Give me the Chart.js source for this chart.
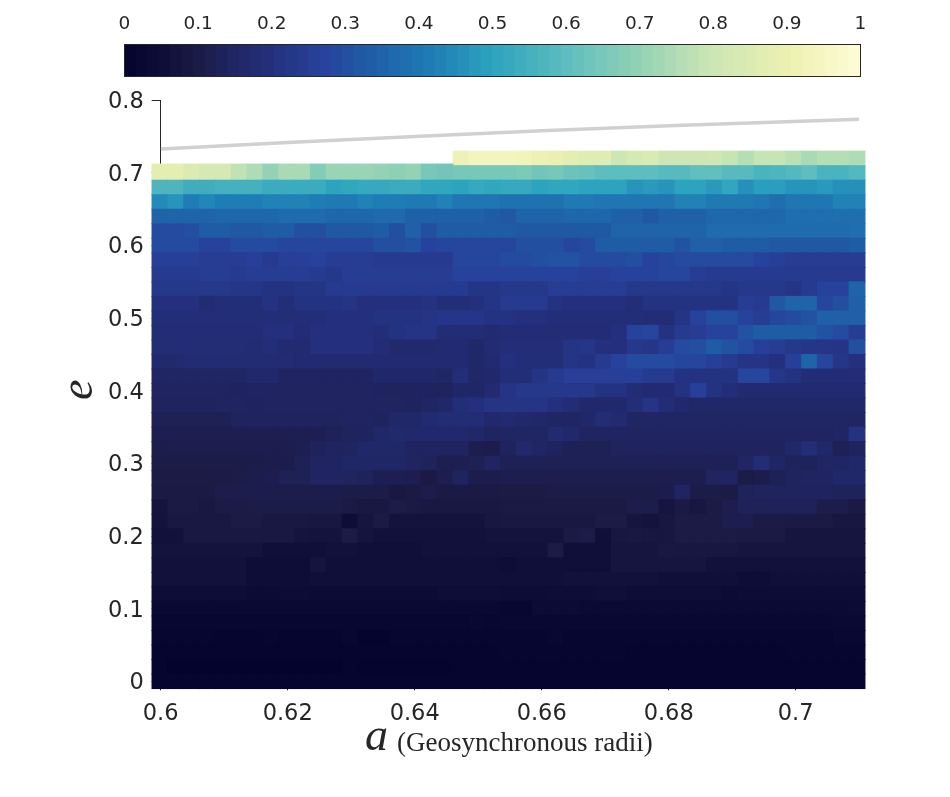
<!DOCTYPE html>
<html lang="en">
<head>
    <meta charset="UTF-8">
    <title>Lifetime map</title>
    <script src="https://cdn.jsdelivr.net/npm/chart.js"></script>
    <style>
        body { margin: 0; background: #fff; }
        #wrap { position: relative; width: 950px; height: 797px; }
        canvas { position: absolute; left: 0; top: 0; }
    </style>
</head>
<body>
    <div id="wrap">
        <canvas id="heatChart" width="950" height="797"></canvas>
        <canvas id="barChart" width="950" height="85"></canvas>
    </div>

    <script>
        const xTicks = [0.6, 0.62, 0.64, 0.66, 0.68, 0.7];
        const yTicks = [0, 0.1, 0.2, 0.3, 0.4, 0.5, 0.6, 0.7, 0.8];
        const barTicks = [0, 0.1, 0.2, 0.3, 0.4, 0.5, 0.6, 0.7, 0.8, 0.9, 1];

        // grey limit curve
        const limitA = [0.6, 0.62, 0.64, 0.66, 0.68, 0.71];
        const limitE = [0.733, 0.742, 0.750, 0.758, 0.765, 0.774];

        // colormap
        const cmapStops = [0, 0.05, 0.1, 0.15, 0.2, 0.27, 0.33, 0.42, 0.5, 0.6, 0.7, 0.8, 0.9, 1];
        const cmapColors = [
            [3, 3, 45], [13, 13, 56], [27, 27, 70], [32, 38, 100], [36, 48, 125], [39, 66, 156],
            [31, 92, 166], [31, 125, 181], [44, 163, 191], [93, 189, 191], [147, 210, 181],
            [205, 230, 180], [235, 240, 176], [255, 252, 214]
        ];

        // cell values, one array per e row (45 columns of a)
        const row00 = [.008,.008,.008,.008,.008,.008,.008,.008,.008,.008,.008,.008,.008,.008,.008,.008,.008,.008,.008,.008,.008,.008,.008,.008,.008,.008,.008,.008,.008,.008,.008,.008,.008,.008,.008,.008,.008,.008,.008,.008,.008,.008,.008,.008,.008];
        const row02 = [.01,.002,.002,.002,.002,.002,.002,.002,.002,.002,.002,.002,.01,.003,.003,.003,.003,.003,.003,.008,.008,.008,.008,.008,.008,.008,.008,.008,.008,.008,.008,.008,.008,.008,.008,.008,.008,.008,.008,.008,.008,.008,.008,.008,.008];
        const row04 = [.01,.01,.01,.01,.01,.01,.01,.01,.01,.01,.01,.01,.01,.01,.01,.01,.01,.01,.01,.01,.01,.01,.014,.014,.014,.014,.014,.014,.014,.014,.008,.008,.008,.008,.008,.008,.008,.008,.008,.008,.014,.014,.014,.014,.014];
        const row06 = [.016,.016,.016,.016,.008,.008,.012,.016,.008,.008,.008,.008,.02,.006,.006,.014,.014,.014,.014,.014,.014,.014,.016,.016,.016,.024,.016,.016,.016,.016,.016,.016,.016,.016,.016,.016,.016,.016,.016,.016,.016,.016,.016,.024,.024];
        const row08 = [.02,.02,.02,.02,.02,.02,.02,.02,.02,.02,.02,.02,.02,.02,.02,.02,.02,.02,.02,.02,.026,.02,.024,.024,.024,.024,.024,.024,.024,.024,.024,.024,.024,.024,.024,.024,.024,.024,.024,.024,.024,.024,.024,.032,.032];
        const row10 = [.03,.03,.03,.03,.03,.03,.03,.03,.03,.03,.03,.03,.03,.03,.03,.03,.03,.03,.03,.03,.03,.03,.02,.02,.04,.04,.04,.036,.036,.036,.036,.036,.036,.036,.036,.036,.036,.036,.036,.036,.036,.036,.036,.036,.04];
        const row12 = [.05,.05,.05,.05,.05,.05,.04,.04,.045,.045,.04,.04,.04,.04,.04,.04,.04,.04,.05,.05,.05,.05,.045,.045,.045,.05,.05,.05,.058,.058,.05,.05,.05,.05,.05,.05,.04,.045,.045,.045,.045,.045,.045,.045,.045];
        const row14 = [.065,.065,.065,.065,.065,.065,.05,.05,.05,.05,.058,.058,.058,.058,.058,.058,.058,.058,.058,.058,.058,.058,.058,.058,.058,.058,.065,.065,.065,.065,.065,.065,.058,.058,.058,.058,.058,.05,.05,.058,.058,.058,.058,.058,.058];
        const row16 = [.065,.065,.065,.065,.065,.065,.05,.05,.05,.05,.075,.058,.058,.058,.058,.058,.058,.058,.058,.058,.058,.058,.05,.058,.058,.058,.058,.058,.058,.08,.08,.08,.08,.08,.08,.065,.065,.065,.065,.065,.065,.065,.065,.065,.065];
        const row18 = [.07,.07,.07,.07,.07,.07,.07,.058,.058,.058,.058,.065,.065,.058,.058,.058,.058,.065,.065,.065,.065,.065,.065,.065,.065,.10,.058,.058,.058,.08,.08,.08,.09,.085,.085,.085,.085,.08,.08,.08,.08,.08,.08,.08,.08];
        const row20 = [.065,.065,.09,.09,.09,.09,.09,.09,.09,.075,.07,.07,.10,.075,.065,.065,.065,.065,.065,.065,.065,.07,.07,.07,.07,.07,.095,.105,.058,.085,.09,.085,.085,.10,.10,.10,.10,.095,.095,.095,.08,.08,.08,.08,.08];
        const row22 = [.07,.09,.09,.09,.09,.10,.10,.09,.09,.09,.085,.085,.05,.08,.095,.07,.07,.07,.07,.07,.07,.085,.09,.09,.09,.09,.09,.09,.10,.10,.08,.07,.085,.10,.10,.10,.115,.115,.10,.10,.095,.095,.095,.085,.085];
        const row24 = [.075,.095,.095,.09,.10,.10,.105,.105,.105,.105,.105,.105,.095,.09,.09,.105,.095,.09,.09,.09,.09,.09,.095,.095,.095,.095,.095,.095,.095,.095,.11,.11,.08,.095,.085,.10,.115,.13,.13,.13,.13,.13,.11,.11,.095];
        const row26 = [.095,.095,.095,.095,.11,.11,.11,.11,.11,.11,.11,.11,.105,.105,.105,.09,.095,.11,.095,.095,.095,.095,.10,.10,.10,.105,.105,.105,.105,.105,.105,.105,.11,.145,.105,.105,.10,.135,.14,.14,.14,.14,.14,.135,.135];
        const row28 = [.10,.10,.10,.10,.10,.105,.11,.115,.125,.125,.145,.145,.145,.135,.12,.12,.115,.095,.115,.14,.11,.11,.115,.115,.115,.115,.115,.115,.115,.115,.115,.115,.115,.115,.115,.145,.145,.105,.11,.125,.14,.145,.145,.16,.16];
        const row30 = [.105,.105,.105,.105,.105,.105,.105,.11,.11,.125,.145,.145,.155,.155,.155,.155,.145,.135,.12,.12,.125,.145,.125,.125,.125,.125,.125,.125,.125,.125,.125,.125,.125,.125,.125,.125,.125,.15,.185,.15,.135,.135,.15,.15,.16];
        const row32 = [.11,.115,.115,.115,.115,.115,.115,.115,.115,.12,.135,.145,.145,.16,.16,.16,.145,.145,.145,.145,.115,.11,.14,.165,.15,.14,.125,.125,.125,.14,.14,.14,.14,.14,.14,.14,.14,.14,.14,.14,.16,.19,.16,.125,.14];
        const row34 = [.12,.12,.12,.12,.12,.12,.12,.12,.12,.12,.12,.13,.14,.14,.16,.17,.165,.165,.165,.165,.16,.145,.15,.15,.15,.175,.165,.145,.145,.145,.145,.145,.145,.145,.145,.145,.145,.145,.145,.145,.145,.145,.145,.15,.21];
        const row36 = [.125,.125,.125,.125,.125,.14,.14,.14,.14,.14,.14,.14,.145,.145,.14,.16,.16,.175,.185,.185,.185,.165,.175,.165,.16,.15,.15,.16,.185,.175,.15,.15,.15,.15,.15,.15,.15,.15,.15,.15,.15,.15,.15,.15,.15];
        const row38 = [.14,.14,.14,.14,.145,.145,.14,.145,.145,.145,.145,.145,.145,.145,.145,.145,.14,.15,.16,.19,.20,.215,.215,.215,.215,.20,.185,.165,.165,.165,.19,.215,.185,.165,.16,.16,.16,.16,.16,.16,.16,.16,.16,.16,.16];
        const row40 = [.145,.145,.145,.145,.145,.14,.145,.145,.145,.145,.145,.145,.145,.145,.14,.14,.14,.14,.14,.155,.155,.175,.215,.23,.23,.23,.23,.23,.21,.21,.185,.175,.175,.21,.26,.21,.19,.175,.175,.175,.175,.175,.175,.175,.175];
        const row42 = [.15,.15,.15,.15,.15,.15,.165,.165,.145,.145,.145,.145,.145,.145,.16,.16,.16,.16,.155,.19,.16,.165,.19,.19,.215,.24,.26,.26,.26,.26,.26,.24,.24,.21,.21,.21,.21,.28,.28,.225,.21,.185,.185,.185,.185];
        const row44 = [.17,.17,.18,.18,.18,.18,.18,.18,.18,.175,.175,.175,.175,.175,.175,.175,.175,.175,.175,.175,.16,.175,.20,.19,.19,.19,.215,.21,.24,.27,.29,.29,.29,.28,.28,.26,.24,.215,.215,.20,.26,.35,.28,.225,.20];
        const row46 = [.185,.185,.185,.185,.185,.185,.18,.19,.175,.175,.20,.20,.20,.20,.185,.17,.17,.17,.175,.175,.16,.18,.19,.19,.19,.19,.215,.225,.20,.20,.23,.225,.25,.29,.30,.33,.31,.29,.26,.25,.23,.225,.225,.215,.30];
        const row48 = [.185,.185,.185,.185,.185,.185,.185,.20,.20,.185,.20,.20,.20,.20,.19,.21,.215,.215,.185,.185,.185,.175,.185,.185,.185,.185,.185,.185,.185,.20,.27,.28,.21,.24,.25,.27,.27,.31,.33,.33,.33,.33,.31,.29,.25];
        const row50 = [.19,.19,.19,.19,.19,.19,.19,.19,.19,.19,.19,.20,.20,.20,.21,.21,.21,.215,.225,.225,.225,.21,.21,.20,.20,.19,.19,.19,.19,.19,.19,.185,.185,.215,.27,.30,.30,.27,.25,.28,.29,.31,.34,.34,.34];
        const row52 = [.20,.20,.20,.18,.19,.19,.19,.21,.19,.21,.21,.21,.22,.20,.20,.20,.20,.21,.19,.19,.20,.22,.24,.24,.24,.21,.20,.20,.20,.20,.19,.21,.21,.21,.21,.21,.21,.25,.24,.32,.35,.35,.28,.30,.34];
        const row54 = [.23,.23,.23,.23,.23,.225,.225,.21,.21,.22,.22,.24,.24,.24,.24,.24,.24,.24,.24,.24,.22,.22,.23,.23,.23,.25,.25,.25,.25,.25,.23,.23,.23,.23,.23,.23,.22,.23,.23,.23,.22,.24,.27,.27,.35];
        const row56 = [.24,.24,.24,.25,.25,.24,.25,.25,.25,.25,.24,.23,.25,.25,.25,.25,.25,.25,.25,.27,.27,.27,.27,.27,.27,.27,.27,.26,.26,.27,.27,.27,.28,.28,.25,.24,.24,.24,.24,.24,.24,.24,.24,.24,.24];
        const row58 = [.26,.26,.26,.25,.25,.25,.26,.24,.26,.26,.27,.25,.25,.25,.24,.24,.24,.24,.24,.28,.28,.28,.29,.29,.30,.31,.31,.29,.29,.29,.30,.27,.28,.29,.29,.29,.29,.29,.27,.26,.25,.25,.25,.25,.25];
        const row60 = [.29,.29,.29,.27,.27,.29,.29,.29,.28,.28,.28,.28,.28,.28,.30,.30,.31,.27,.28,.28,.28,.28,.28,.30,.30,.30,.28,.29,.33,.33,.33,.33,.33,.31,.34,.34,.33,.33,.33,.32,.32,.32,.32,.32,.33];
        const row62 = [.29,.29,.30,.33,.33,.32,.32,.33,.33,.30,.30,.32,.32,.32,.33,.30,.34,.30,.33,.33,.33,.33,.33,.32,.32,.32,.32,.32,.32,.35,.35,.35,.35,.35,.35,.37,.37,.37,.37,.37,.37,.37,.37,.37,.38];
        const row64 = [.35,.35,.35,.35,.36,.36,.36,.36,.37,.37,.37,.36,.36,.36,.365,.365,.34,.34,.34,.34,.34,.33,.32,.35,.35,.35,.36,.36,.36,.345,.34,.32,.34,.34,.34,.36,.36,.36,.36,.36,.38,.38,.38,.38,.38];
        const row66 = [.45,.47,.42,.44,.42,.42,.42,.43,.43,.43,.42,.41,.41,.43,.42,.42,.41,.41,.43,.40,.40,.40,.39,.39,.39,.39,.41,.41,.40,.40,.40,.40,.40,.43,.43,.41,.41,.41,.40,.38,.40,.40,.40,.43,.43];
        const row68 = [.57,.57,.54,.54,.55,.55,.55,.53,.53,.53,.53,.50,.51,.52,.52,.53,.53,.51,.51,.50,.52,.51,.52,.52,.50,.51,.51,.50,.50,.50,.47,.48,.47,.50,.50,.48,.51,.46,.49,.49,.47,.47,.48,.46,.46];
        const row70 = [.88,.875,.85,.83,.83,.78,.75,.70,.74,.74,.67,.71,.71,.71,.70,.69,.70,.65,.64,.65,.65,.65,.65,.66,.64,.65,.63,.62,.60,.60,.60,.60,.59,.59,.61,.61,.59,.59,.56,.57,.58,.60,.56,.56,.58];
        const row72 = [null,null,null,null,null,null,null,null,null,null,null,null,null,null,null,null,null,null,null,.92,.94,.94,.94,.93,.91,.90,.88,.86,.86,.80,.83,.84,.80,.80,.80,.81,.79,.76,.79,.79,.77,.74,.76,.76,.75];

        const rows = [row00, row02, row04, row06, row08, row10, row12, row14, row16, row18, row20, row22,
            row24, row26, row28, row30, row32, row34, row36, row38, row40, row42, row44, row46, row48,
            row50, row52, row54, row56, row58, row60, row62, row64, row66, row68, row70, row72];

        const inkColor = "#262626";
        const fontFamily = "'DejaVu Sans', sans-serif";

        function cmap(v) {
            let i = 0;
            while (i < cmapStops.length - 2 && v > cmapStops[i + 1]) i++;
            const t = (v - cmapStops[i]) / (cmapStops[i + 1] - cmapStops[i]);
            const c = cmapColors[i].map((low, k) => Math.round(low + (cmapColors[i + 1][k] - low) * t));
            return `rgb(${c[0]},${c[1]},${c[2]})`;
        }

        // column centres sit just under 0.0025 apart, as in the picture
        const cellStepA = 0.002495;
        const firstA = 0.59988;

        const heatDatasets = rows.map((row, k) => {
            const e = k * 0.02;
            const data = [];
            row.forEach((v, i) => {
                if (v === null) return;
                // first 19 cells of the 0.70 row reach slightly higher
                const top = k === 35 && i < 19 ? 0.7122 : e + 0.01;
                data.push({ x: firstA + i * cellStepA, y: [e - 0.01, top], v: v });
            });
            return {
                type: "bar",
                data: data,
                clip: false,
                backgroundColor: (ctx) => cmap(ctx.raw.v),
                borderWidth: 0,
                inflateAmount: 0.5,
                grouped: false,
                barPercentage: 1,
                categoryPercentage: 1
            };
        });

        const limitDataset = {
            type: "line",
            data: limitA.map((a, i) => ({ x: a, y: limitE[i] })),
            borderColor: "#d0d0d0",
            borderWidth: 3.5,
            pointRadius: 0,
            tension: 0
        };

        const axisText = {
            id: "axisText",
            afterDraw(chart) {
                const ctx = chart.ctx;
                ctx.save();
                ctx.fillStyle = inkColor;
                ctx.textBaseline = "alphabetic";
                ctx.font = "italic 46px 'Liberation Serif', serif";
                ctx.fillText("a", 365, 750);
                ctx.font = "27px 'Liberation Serif', serif";
                ctx.fillText("(Geosynchronous radii)", 397, 751);
                ctx.translate(92, 400);
                ctx.rotate(-Math.PI / 2);
                ctx.font = "italic 46px 'Liberation Serif', serif";
                ctx.fillText("e", 0, 0);
                ctx.restore();
            }
        };

        new Chart(document.getElementById("heatChart"), {
            type: "bar",
            data: { datasets: [limitDataset, ...heatDatasets] },
            plugins: [axisText],
            options: {
                responsive: false,
                animation: false,
                layout: { padding: { top: 100.3, right: 90.8, left: 0, bottom: 0 } },
                plugins: { legend: { display: false }, tooltip: { enabled: false } },
                scales: {
                    x: {
                        type: "linear",
                        min: 0.6,
                        max: 0.71,
                        offset: false,
                        afterBuildTicks: (s) => { s.ticks = xTicks.map((v) => ({ value: v })); },
                        afterFit: (s) => { s.height = 115.7; },
                        grid: { offset: false, drawOnChartArea: false, tickLength: 9, tickColor: inkColor },
                        border: { color: inkColor },
                        ticks: {
                            color: inkColor, padding: 10, maxRotation: 0, autoSkip: false,
                            font: { family: fontFamily, size: 22.5 },
                            callback: (v) => String(v)
                        }
                    },
                    y: {
                        type: "linear",
                        min: 0,
                        max: 0.8,
                        afterBuildTicks: (s) => { s.ticks = yTicks.map((v) => ({ value: v })); },
                        afterFit: (s) => { s.width = 160.7; },
                        grid: { drawOnChartArea: false, tickLength: 9, tickColor: inkColor },
                        border: { color: inkColor },
                        ticks: {
                            color: inkColor, padding: 8, autoSkip: false, labelOffset: 2,
                            font: { family: fontFamily, size: 22.5 },
                            callback: (v) => String(v)
                        }
                    }
                }
            }
        });

        // colour bar: 64 flat levels
        const levels = [];
        for (let i = 0; i < 64; i++) levels.push((i + 0.5) / 64);

        const barFrame = {
            id: "barFrame",
            afterDraw(chart) {
                const a = chart.chartArea;
                chart.ctx.save();
                chart.ctx.strokeStyle = inkColor;
                chart.ctx.lineWidth = 1;
                chart.ctx.strokeRect(a.left, a.top, a.right - a.left, a.bottom - a.top);
                chart.ctx.restore();
            }
        };

        new Chart(document.getElementById("barChart"), {
            type: "bar",
            data: {
                datasets: [{
                    data: levels.map((v) => ({ x: v, y: 1 })),
                    backgroundColor: levels.map(cmap),
                    borderWidth: 0,
                    inflateAmount: 0.5,
                    barPercentage: 1,
                    categoryPercentage: 1
                }]
            },
            plugins: [barFrame],
            options: {
                responsive: false,
                animation: false,
                layout: { padding: { left: 124.5, right: 89.5, top: 0, bottom: 8.5 } },
                plugins: { legend: { display: false }, tooltip: { enabled: false } },
                scales: {
                    x: {
                        type: "linear",
                        position: "top",
                        z: 1,
                        min: 0,
                        max: 1,
                        offset: false,
                        afterBuildTicks: (s) => { s.ticks = barTicks.map((v) => ({ value: v })); },
                        afterFit: (s) => { s.height = 44.5; },
                        grid: { offset: false, drawOnChartArea: false, tickLength: -5, tickColor: inkColor },
                        border: { display: false },
                        ticks: {
                            color: inkColor, padding: 14, maxRotation: 0, autoSkip: false,
                            font: { family: fontFamily, size: 18.5 },
                            callback: (v) => String(v)
                        }
                    },
                    y: { display: false, min: 0, max: 1 }
                }
            }
        });
    </script>
</body>
</html>
